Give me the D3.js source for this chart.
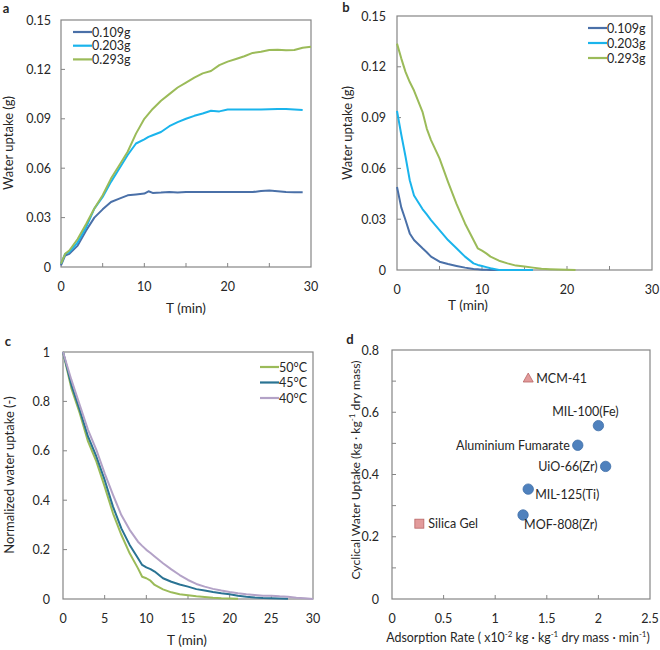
<!DOCTYPE html>
<html><head><meta charset="utf-8">
<script src="https://cdn.jsdelivr.net/npm/d3@7"></script>
<style>
body{margin:0;background:#fff;}
svg{display:block;font-family:Lato,"Open Sans",sans-serif;}
</style></head><body>
<svg id="c" width="660" height="650"></svg>
<script>
// ---------- DATA ----------
const seriesAB = ["0.109g","0.203g","0.293g"];
const colorsAB = ["#4a70a8","#1ab4ec","#9bbb59"];

const aTime = [0,0.5,1,2,3,4,5,6,7,8,9,10,10.5,11,12,13,14,15,16,17,18,19,20,21,22,23,24,25,26,27,28,29,30];
const a109 = [0.001,0.007,0.008,0.013,0.022,0.030,0.035,0.0395,0.0415,0.0435,0.044,0.0446,0.046,0.045,0.0452,0.0456,0.0453,0.0455,0.0455,0.0455,0.0455,0.0455,0.0455,0.0455,0.0455,0.0455,0.0462,0.0464,0.046,0.0455,0.0454,0.0454,null];
const a203 = [0.002,0.008,0.009,0.015,0.024,0.0355,0.0425,0.0517,0.0598,0.068,0.075,0.0775,0.079,0.080,0.082,0.0855,0.088,0.090,0.0918,0.0932,0.0949,0.0945,0.0957,0.0957,0.0956,0.0956,0.0956,0.0958,0.096,0.096,0.0956,0.0953,null];
const a293 = [0.002,0.008,0.010,0.017,0.026,0.0355,0.0436,0.0537,0.0618,0.070,0.081,0.090,0.093,0.096,0.101,0.105,0.109,0.112,0.115,0.1176,0.119,0.1226,0.1247,0.1263,0.128,0.130,0.1307,0.1318,0.132,0.1316,0.1318,0.1332,0.1338];

const bTime = [0,0.5,1,1.5,2,3,3.5,4,5,6,7,8,9,9.5,10,10.5,11,12,13,14,15,16,17,18,19,20,21];
const b109 = [0.049,0.037,0.0295,0.0216,0.0177,0.0128,0.0105,0.0079,0.0049,0.0035,0.0024,0.0014,0.0006,0.0004,0.0002,0.0001,0,0,0,0,0,0,null,null,null,null,null];
const b203 = [0.094,0.080,0.067,0.053,0.044,0.036,0.0328,0.0295,0.0236,0.0177,0.0128,0.0079,0.0039,0.003,0.0024,0.0017,0.001,0,0,0,0,0,null,null,null,null,null];
const b293 = [0.1337,0.125,0.117,0.111,0.106,0.0934,0.0835,0.0767,0.0659,0.052,0.039,0.0275,0.0177,0.0128,0.0114,0.0098,0.0079,0.0055,0.0039,0.0026,0.002,0.0014,0.0008,0.0005,0.0003,0.0002,0];

const seriesC = ["50°C","45°C","40°C"];
const colorsC = ["#9bbb59","#2a7393","#b3a2c7"];
const cTime = [0,1,2,3,4,5,6,7,8,9,9.5,10,10.5,11,12,13,14,15,16,17,18,19,20,21,22,23,24,25,26,27,28,29,30];
const c50 = [1.0,0.854,0.753,0.638,0.557,0.455,0.347,0.26,0.185,0.124,0.09,0.084,0.074,0.057,0.039,0.027,0.019,0.015,0.011,0.008,0.005,0.003,0.002,0.001,null,null,null,null,null,null,null,null,null];
const c45 = [1.0,0.868,0.766,0.658,0.577,0.482,0.374,0.286,0.219,0.165,0.138,0.128,0.121,0.111,0.084,0.070,0.059,0.050,0.040,0.034,0.028,0.023,0.019,0.0135,0.009,0.006,0.004,0.003,0.002,0.001,null,null,null];
const c40 = [1.0,0.888,0.786,0.685,0.604,0.509,0.422,0.34,0.28,0.232,0.215,0.199,0.186,0.172,0.145,0.12,0.097,0.077,0.061,0.05,0.041,0.034,0.028,0.023,0.019,0.016,0.0135,0.0135,0.011,0.0095,0.005,0.003,0.0];

const dNames = ["MCM-41","MIL-100(Fe)","Aluminium Fumarate","UiO-66(Zr)","MIL-125(Ti)","MOF-808(Zr)","Silica Gel"];
const dRate  = [1.32,2.0,1.80,2.07,1.32,1.27,0.265];
const dUptake= [0.71,0.557,0.494,0.426,0.353,0.27,0.242];
const dShape = ["triangle","circle","circle","circle","circle","circle","square"];

const abXTicks = [0,10,20,30];
const abYTicks = [0,0.03,0.06,0.09,0.12,0.15];
const cXTicks = [0,5,10,15,20,25,30];
const cYTicks = [0,0.2,0.4,0.6,0.8,1];
const dXTicks = [0,0.5,1,1.5,2,2.5];
const dYTicks = [0,0.2,0.4,0.6,0.8];

// ---------- DRAW ----------
const svg = d3.select("#c");
const frameColor = "#858585";
const textColor = "#262626";

function panel(o){
  const g = svg.append("g");
  const x = d3.scaleLinear().domain(o.xd).range([o.l,o.r]);
  const y = d3.scaleLinear().domain(o.yd).range([o.b,o.t]);
  g.append("rect").attr("x",o.l).attr("y",o.t).attr("width",o.r-o.l).attr("height",o.b-o.t)
    .attr("fill","none").attr("stroke",frameColor).attr("stroke-width",1.2);
  o.xMinor.forEach(v=>{ g.append("line").attr("x1",x(v)).attr("x2",x(v)).attr("y1",o.b).attr("y2",o.b-4).attr("stroke",frameColor); });
  o.yMinor.forEach(v=>{ g.append("line").attr("x1",o.l).attr("x2",o.l+4).attr("y1",y(v)).attr("y2",y(v)).attr("stroke",frameColor); });
  o.xTicks.forEach(v=>{ g.append("text").attr("x",x(v)).attr("y",o.b+o.xLabOff).attr("text-anchor","middle")
      .attr("font-size",12.5).attr("fill",textColor).text(o.xFmt? o.xFmt(v): v); });
  o.yTicks.forEach(v=>{ g.append("text").attr("x",o.l-o.yLabOff).attr("y",y(v)+4.5).attr("text-anchor","end")
      .attr("font-size",12.5).attr("fill",textColor).text(o.yFmt? o.yFmt(v): v); });
  return {g,x,y};
}

function drawLines(p, time, arrs, colors){
  const line = d3.line().defined(d=>d[1]!==null).x(d=>p.x(d[0])).y(d=>p.y(d[1]));
  arrs.forEach((arr,i)=>{
    p.g.append("path").datum(time.map((t,j)=>[t,arr[j]])).attr("d",line)
      .attr("fill","none").attr("stroke",colors[i]).attr("stroke-width",2).attr("stroke-linejoin","round");
  });
}
function legend(g, x0, y0, dy, names, colors){
  names.forEach((n,i)=>{
    g.append("line").attr("x1",x0).attr("x2",x0+19).attr("y1",y0+i*dy).attr("y2",y0+i*dy).attr("stroke",colors[i]).attr("stroke-width",2.2);
    g.append("text").attr("x",x0+19).attr("y",y0+i*dy+4.5).attr("font-size",12.5).attr("fill",textColor).text(n);
  });
}
function label(txt,x,y,rot,size,weight){
  const t = svg.append("text").attr("x",x).attr("y",y).attr("text-anchor","middle").attr("font-size",size||13)
     .attr("fill",textColor).attr("font-weight",weight||"normal");
  if(rot) t.attr("transform",`rotate(-90,${x},${y})`);
  if(typeof txt==="string") t.text(txt); else txt(t);
  return t;
}
const fmtAB = v => v===0? "0" : d3.format(".2f")(v);
const fmt1 = v => v===0? "0" : d3.format("~g")(v);

// Panel a
const pa = panel({l:61,r:311,t:20,b:267,xd:[0,30],yd:[0,0.15],
  xTicks:abXTicks,yTicks:abYTicks,xMinor:[5,10,15,20,25],yMinor:[0.03,0.06,0.09,0.12],
  xLabOff:24,yLabOff:10,yFmt:fmtAB});
drawLines(pa,aTime,[a109,a203,a293],colorsAB);
legend(pa.g,73,32,13.7,seriesAB,colorsAB);
label("Water uptake  (g)",13,143,true,13);
label("T (min)",186,313,false,13.5);
label("a",6,13,false,13,"bold");

// Panel b
const pb = panel({l:397,r:652,t:16,b:270,xd:[0,30],yd:[0,0.15],
  xTicks:abXTicks,yTicks:abYTicks,xMinor:[5,10,15,20,25],yMinor:[0.03,0.06,0.09,0.12],
  xLabOff:24,yLabOff:11,yFmt:fmtAB});
drawLines(pb,bTime,[b109,b203,b293],colorsAB);
legend(pb.g,588,28,15,seriesAB,colorsAB);
label("Water uptake  (g)",352,133,true,13);
label("T (min)",468,310,false,13.5);
label("b",346,12,false,13,"bold");

// Panel c
const pc = panel({l:63,r:313,t:352,b:599,xd:[0,30],yd:[0,1],
  xTicks:cXTicks,yTicks:cYTicks,xMinor:[5,10,15,20,25],yMinor:[0.2,0.4,0.6,0.8],
  xLabOff:24,yLabOff:13,yFmt:fmt1});
drawLines(pc,cTime,[c50,c45,c40],colorsC);
legend(pc.g,260,367,15.5,seriesC,colorsC);
label("Normalized water uptake  (-)",14,475,true,13);
label("T (min)",187,645,false,13.5);
label("c",8,346,false,13,"bold");

// Panel d
const pd = panel({l:392,r:650,t:350,b:599,xd:[0,2.5],yd:[0,0.8],
  xTicks:dXTicks,yTicks:dYTicks,xMinor:[0.5,1,1.5,2],yMinor:[0.1,0.2,0.3,0.4,0.5,0.6,0.7],
  xLabOff:24,yLabOff:13,xFmt:fmt1,yFmt:fmt1});
const labelPos = [
  {dx:8,dy:4.5,anchor:"start"},
  {dx:-13,dy:-10,anchor:"middle"},
  {dx:-8,dy:4.5,anchor:"end"},
  {dx:-8,dy:4.5,anchor:"end"},
  {dx:7,dy:10,anchor:"start"},
  {dx:1,dy:14,anchor:"start"},
  {dx:9,dy:4.5,anchor:"start"}
];
dNames.forEach((n,i)=>{
  const cx = pd.x(dRate[i]), cy = pd.y(dUptake[i]);
  if(dShape[i]==="circle"){
    pd.g.append("circle").attr("cx",cx).attr("cy",cy).attr("r",5.2).attr("fill","#4f81bd").attr("stroke","#3f6ea8").attr("stroke-width",0.8);
  } else if(dShape[i]==="square"){
    pd.g.append("rect").attr("x",cx-4.5).attr("y",cy-4.5).attr("width",9).attr("height",9).attr("fill","#e29b9b").attr("stroke","#b86666").attr("stroke-width",0.8);
  } else {
    pd.g.append("path").attr("d",`M${cx},${cy-5}L${cx+5},${cy+4}L${cx-5},${cy+4}Z`).attr("fill","#e29b9b").attr("stroke","#b86666").attr("stroke-width",0.8);
  }
  const lp = labelPos[i];
  pd.g.append("text").attr("x",cx+lp.dx).attr("y",cy+lp.dy).attr("text-anchor",lp.anchor).attr("font-size",12.5).attr("fill",textColor).text(n);
});
label(t=>{
  t.append("tspan").text("Cyclical Water Uptake (kg · kg");
  t.append("tspan").attr("baseline-shift","super").attr("font-size",8).text("-1");
  t.append("tspan").text(" dry mass)");
},360,470,true,12.2);
label(t=>{
  t.append("tspan").text("Adsorption Rate ( x10");
  t.append("tspan").attr("baseline-shift","super").attr("font-size",8).text("-2");
  t.append("tspan").text(" kg · kg");
  t.append("tspan").attr("baseline-shift","super").attr("font-size",8).text("-1");
  t.append("tspan").text(" dry mass · min");
  t.append("tspan").attr("baseline-shift","super").attr("font-size",8).text("-1");
  t.append("tspan").text(")");
},518,642,false,12.4);
label("d",350,344,false,13,"bold");
</script></body></html>
